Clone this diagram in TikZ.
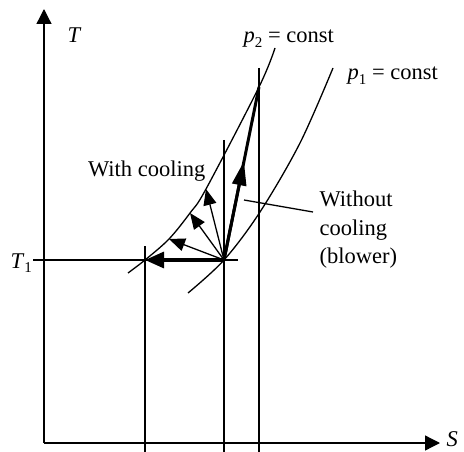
\documentclass[tikz,border=0pt]{standalone}
\usepackage{fontspec}
\setmainfont{Liberation Serif}
\usetikzlibrary{arrows.meta,calc}
\newcommand\mysub[1]{\raisebox{-0.22em}{\fontsize{15}{15}\selectfont #1}}
\begin{document}
\begin{tikzpicture}[x=1pt,y=-1pt,line width=1.3pt,
  lbl/.style={inner sep=0pt,font=\fontsize{22.5}{27}\selectfont},
  axisarr/.style={-{Triangle[length=15pt,width=15pt]}},
  thinarr/.style={-{Triangle[length=16pt,width=13pt]}},
  thickarr/.style={line width=3.2pt,-{Triangle[length=19pt,width=16pt]}},
  curve/.style={line width=1.3pt}]
\useasboundingbox (0,0) rectangle (464,452);
% named points
\coordinate (O) at (44,443);
\coordinate (Ytop) at (44,9);
\coordinate (Xend) at (440,443);
\coordinate (C) at (224,260);
\coordinate (A) at (145,260);
\coordinate (B1) at (169,239);
\coordinate (B2) at (190,213);
\coordinate (B3) at (206,189);
\coordinate (T2) at (259,87);
\coordinate (T1s) at (33,260);
\coordinate (T1e) at (238,260);
\coordinate (V1t) at (145,246);
\coordinate (V1b) at (145,452);
\coordinate (V2t) at (224,140);
\coordinate (V2b) at (224,452);
\coordinate (V3t) at (259,68);
\coordinate (V3b) at (259,452);
\coordinate (L1) at (244,200);
\coordinate (L2) at (313,212);
% axes
\draw[axisarr] (O) -- (Ytop);
\draw[axisarr] (O) -- (Xend);
% vertical lines
\draw (V1t) -- (V1b);
\draw (V2t) -- (V2b);
\draw (V3t) -- (V3b);
% T1 line
\draw (T1s) -- (T1e);
% isobars
\draw[curve] plot[smooth,tension=0.55] coordinates {(128,273) (145,260) (169,239) (190,213) (206,189) (259,87) (275,48)};
\draw[curve] plot[smooth,tension=0.55] coordinates {(188,293) (224,260) (260,212) (300,143) (333,68)};
% arrows
\draw[thickarr] (C) -- (A);
\draw[thinarr] (C) -- (B1);
\draw[thinarr] (C) -- (B2);
\draw[thinarr] (C) -- (B3);
\draw[line width=3pt] (C) -- (T2);
\draw[line width=3pt,-{Triangle[length=24pt,width=14pt]}] (C) -- ($(C)!0.57!(T2)$);
% leader
\draw (L1) -- (L2);
% labels
\node[lbl,anchor=base west] (Tlab) at (67,43) {\textit{T}};
\node[lbl,anchor=base west] (Slab) at (446,446) {\textit{S}};
\node[lbl,anchor=base west] (T1lab) at (10,268) {\textit{T}\mysub{1}};
\node[lbl,anchor=base west] (p2lab) at (243,43) {\textit{p}\mysub{2} = const};
\node[lbl,anchor=base west] (p1lab) at (347,80) {\textit{p}\mysub{1} = const};
\node[lbl,anchor=base east] (wc) at (206,176) {With cooling};
\node[lbl,anchor=base west] (woc1) at (319,207) {Without};
\node[lbl,anchor=base west] (woc2) at (319,235) {cooling};
\node[lbl,anchor=base west] (woc3) at (319,263) {(blower)};
\end{tikzpicture}
\end{document}
